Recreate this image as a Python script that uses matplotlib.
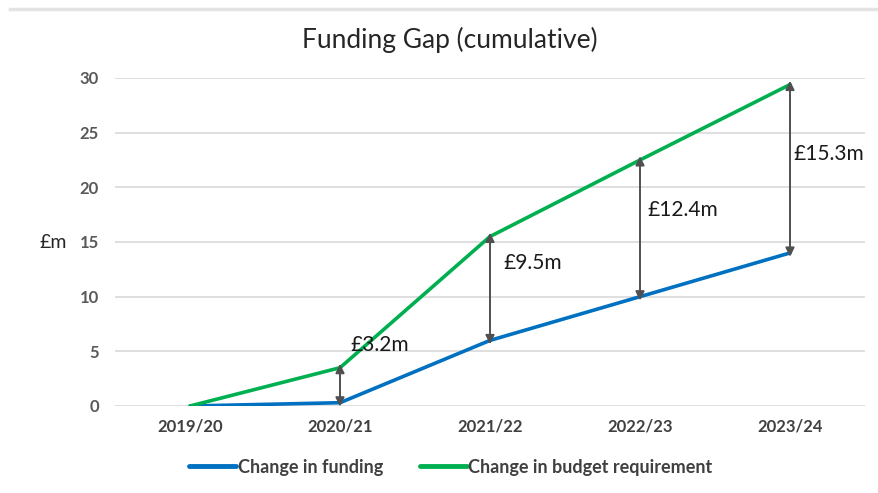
import matplotlib
matplotlib.use("Agg")
import matplotlib.pyplot as plt
from matplotlib.lines import Line2D

years = ["2019/20", "2020/21", "2021/22", "2022/23", "2023/24"]
funding = [0.0, 0.3, 6.0, 10.0, 14.0]
budget = [0.0, 3.5, 15.5, 22.5, 29.4]
gap_labels = ["£3.2m", "£9.5m", "£12.4m", "£15.3m"]
title = "Funding Gap (cumulative)"
series_names = ["Change in funding", "Change in budget requirement"]

plt.rcParams['font.family'] = ['Lato', 'DejaVu Sans']

fig = plt.figure(figsize=(8.79, 4.93), dpi=100)
ax = fig.add_axes([115/879, 1-406/493, 750/879, (406-78)/493])

x = list(range(len(years)))
ax.plot(x, funding, color="#0070C0", lw=2.6, solid_capstyle='round', zorder=3, label=series_names[0])
ax.plot(x, budget, color="#00B050", lw=2.6, solid_capstyle='round', zorder=3, label=series_names[1])

# gap arrows and labels
label_offsets = [(0.07, 5.3), (0.09, 7.1), (0.05, 7.9), (0.02, 9.05)]
for k, lab in enumerate(gap_labels):
    i = k + 1
    ax.annotate("", xy=(i, budget[i] + 0.35), xytext=(i, funding[i] - 0.35),
                arrowprops=dict(arrowstyle='<|-|>', color='#505050', lw=1.4,
                                mutation_scale=13, shrinkA=0, shrinkB=0),
                zorder=4, annotation_clip=False)
    dx, dy = label_offsets[k]
    ax.text(i + dx, funding[i] + dy, lab, fontsize=15, color='#1a1a1a',
            va='center', ha='left', zorder=5)

ax.set_xlim(-0.5, 4.5)
ax.set_ylim(0, 30)
ax.set_yticks([0, 5, 10, 15, 20, 25, 30])
ax.set_xticks(x)
ax.set_xticklabels(years)
ax.grid(axis='y', color='#d9d9d9', lw=1.2)
ax.set_axisbelow(True)
for s in ax.spines.values():
    s.set_visible(False)
ax.tick_params(axis='both', length=0, labelsize=12, labelcolor='#595959')
ax.tick_params(axis='y', pad=11.5)
ax.tick_params(axis='x', pad=9)
for t in ax.get_xticklabels():
    t.set_fontweight('bold')
    t.set_color('#404040')
for t in ax.get_yticklabels():
    t.set_fontweight('bold')

fig.text(53/879, 1-243/493, "£m", fontsize=14, color='#262626',
         ha='center', va='center')
fig.text(450/879, 1-40/493, title, fontsize=19, color='#262626', ha='center', va='center')

fig.add_artist(Line2D([10/879, 1], [1-9/493, 1-9/493], color='#e3e3e3', lw=2.5))

leg = fig.legend(loc='center', bbox_to_anchor=(451/879, 1-467/493), ncol=2, frameon=False,
                 handlelength=2.6, handletextpad=0.1, columnspacing=2.0,
                 prop={'size': 13, 'weight': 'bold'})
for t in leg.get_texts():
    t.set_color('#404040')
for h in leg.get_lines():
    h.set_linewidth(3.5)

fig.savefig("out.png", dpi=100)
